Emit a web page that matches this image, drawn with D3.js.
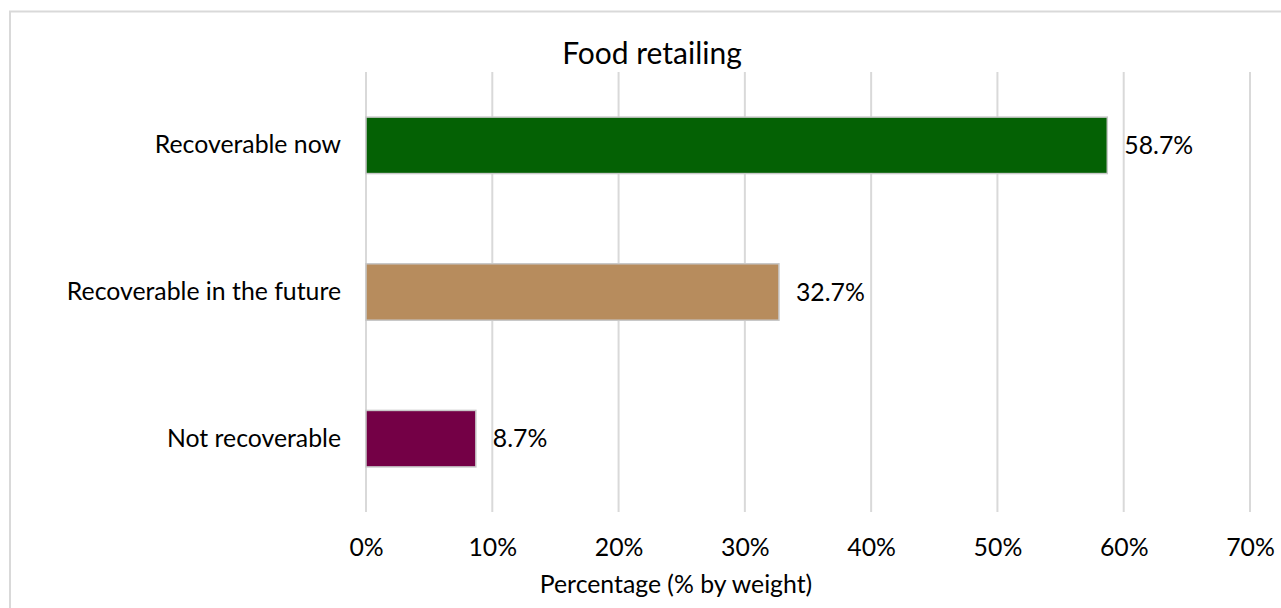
<!DOCTYPE html>
<html>
<head>
<meta charset="utf-8">
<script src="https://cdn.jsdelivr.net/npm/d3@7"></script>
<style>
  html, body { margin: 0; padding: 0; background: #fff; }
  svg { display: block; }
  text { font-family: Lato, "Open Sans", sans-serif; fill: #000; }
</style>
</head>
<body>
<svg id="chart" width="1281" height="608"></svg>
<script>
const categories = ["Recoverable now", "Recoverable in the future", "Not recoverable"];
const values = [58.7, 32.7, 8.7];
const barColors = ["#046104", "#b78c5d", "#740046"];
const tickValues = [0, 10, 20, 30, 40, 50, 60, 70];
const titleText = "Food retailing";
const xAxisTitle = "Percentage (% by weight)";

const svg = d3.select("#chart");
const W = 1281, H = 608;
const plot = { left: 366, right: 1250, top: 72, bottom: 512 };
const fs = "24.8px";

// chart area border
svg.append("rect")
  .attr("x", 10).attr("y", 11.5)
  .attr("width", W + 20).attr("height", H + 20)
  .attr("fill", "#fff")
  .attr("stroke", "#d9d9d9").attr("stroke-width", 2);

const x = d3.scaleLinear().domain([0, 70]).range([plot.left, plot.right]);
const y = d3.scaleBand().domain(categories).range([plot.top, plot.bottom])
  .paddingInner(0.615).paddingOuter(0.3075);

// gridlines
svg.append("g").selectAll("line").data(tickValues).join("line")
  .attr("x1", d => x(d)).attr("x2", d => x(d))
  .attr("y1", plot.top).attr("y2", plot.bottom)
  .attr("stroke", "#d9d9d9").attr("stroke-width", 2);

// x axis tick labels
const xAxis = d3.axisBottom(x).tickValues(tickValues).tickFormat(d => d + "%").tickSize(0).tickPadding(0);
const gx = svg.append("g").attr("transform", `translate(0, ${plot.bottom})`).call(xAxis);
gx.select(".domain").remove();
gx.selectAll("text")
  .attr("y", 35).attr("dy", "0.35em")
  .style("font-size", fs).style("font-family", "Lato, sans-serif").attr("fill", "#000");

// y axis category labels
const yAxis = d3.axisLeft(y).tickSize(0).tickPadding(25);
const gy = svg.append("g").attr("transform", `translate(${plot.left}, 0)`).call(yAxis);
gy.select(".domain").remove();
gy.selectAll("text")
  .style("font-size", fs).style("font-family", "Lato, sans-serif").attr("fill", "#000");

// bars
svg.append("g").selectAll("rect").data(categories).join("rect")
  .attr("x", x(0))
  .attr("y", d => y(d))
  .attr("width", (d, i) => x(values[i]) - x(0))
  .attr("height", y.bandwidth())
  .attr("fill", (d, i) => barColors[i])
  .attr("stroke", "#c8c8c8").attr("stroke-width", 1.5);

// data labels
svg.append("g").selectAll("text").data(categories).join("text")
  .attr("x", (d, i) => x(values[i]) + 17)
  .attr("y", d => y(d) + y.bandwidth() / 2)
  .attr("dy", "0.35em")
  .style("font-size", fs)
  .text((d, i) => values[i].toFixed(1) + "%");

// title
svg.append("text")
  .attr("x", 652).attr("y", 53).attr("dy", "0.35em")
  .attr("text-anchor", "middle")
  .style("font-size", "30px")
  .text(titleText);

// x axis title
svg.append("text")
  .attr("x", 676).attr("y", 584).attr("dy", "0.35em")
  .attr("text-anchor", "middle")
  .style("font-size", fs)
  .text(xAxisTitle);
</script>
</body>
</html>
